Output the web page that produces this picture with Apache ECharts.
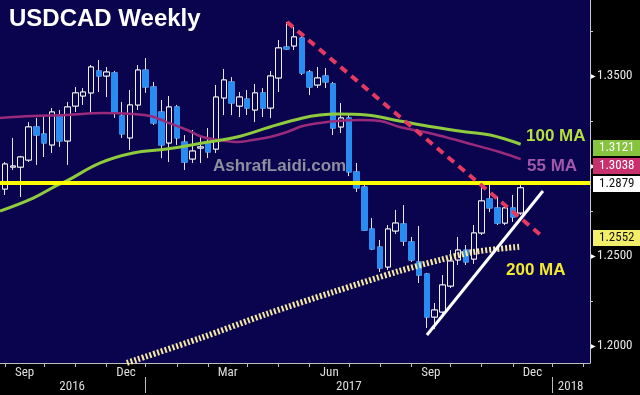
<!DOCTYPE html>
<html><head><meta charset="utf-8">
<script src="https://cdn.jsdelivr.net/npm/echarts@6/dist/echarts.min.js"></script>
<style>html,body{margin:0;padding:0;background:#000}#c{width:640px;height:395px}</style>
</head><body><div id="c"></div>
<script>
// Week index 0 = first week of Sep 2016 (index -1 = last week of Aug 2016)
const firstWeek = -1;
const open  = [1.2961,1.2872,1.2994,1.2994,1.3033,1.3217,1.3178,1.3117,1.3283,1.3139,1.3333,1.3389,1.3406,1.3528,1.3500,1.3517,1.3278,1.3156,1.3339,1.3533,1.3439,1.3300,1.3128,1.3328,1.3133,1.3039,1.3100,1.3128,1.3094,1.3378,1.3467,1.3333,1.3372,1.3311,1.3406,1.3322,1.3489,1.3661,1.3667,1.3711,1.3522,1.3450,1.3500,1.3456,1.3217,1.3267,1.2967,1.2883,1.2650,1.2550,1.2439,1.2639,1.2678,1.2578,1.2467,1.2400,1.2161,1.2189,1.2333,1.2478,1.2533,1.2483,1.2628,1.2817,1.2767,1.2683,1.2767,1.2739];
const close = [1.2872,1.3011,1.3000,1.3050,1.3217,1.3172,1.3128,1.3300,1.3139,1.3328,1.3406,1.3411,1.3550,1.3500,1.3522,1.3300,1.3178,1.3339,1.3533,1.3439,1.3239,1.3117,1.3328,1.3156,1.3022,1.3083,1.3106,1.3078,1.3383,1.3478,1.3350,1.3383,1.3322,1.3406,1.3322,1.3500,1.3656,1.3650,1.3717,1.3517,1.3439,1.3489,1.3467,1.3211,1.3267,1.2967,1.2878,1.2644,1.2539,1.2433,1.2650,1.2683,1.2583,1.2478,1.2394,1.2161,1.2200,1.2339,1.2472,1.2533,1.2467,1.2628,1.2806,1.2767,1.2683,1.2767,1.2717,1.2879];
const low   = [1.2861,1.2839,1.2978,1.2828,1.3022,1.3006,1.3050,1.3072,1.3106,1.3006,1.3300,1.3339,1.3294,1.3411,1.3383,1.3267,1.3156,1.3089,1.3311,1.3406,1.3228,1.3044,1.3022,1.3117,1.2978,1.3017,1.3017,1.3044,1.3072,1.3283,1.3283,1.3272,1.3283,1.3244,1.3272,1.3267,1.3411,1.3644,1.3644,1.3506,1.3394,1.3433,1.3433,1.3172,1.3183,1.2944,1.2856,1.2639,1.2533,1.2411,1.2422,1.2622,1.2556,1.2467,1.2350,1.2100,1.2094,1.2172,1.2322,1.2450,1.2450,1.2456,1.2617,1.2744,1.2672,1.2672,1.2689,1.2728];
const high  = [1.2972,1.3022,1.3156,1.3056,1.3244,1.3267,1.3283,1.3322,1.3311,1.3356,1.3439,1.3433,1.3561,1.3589,1.3550,1.3528,1.3356,1.3422,1.3561,1.3600,1.3467,1.3367,1.3389,1.3339,1.3172,1.3200,1.3161,1.3211,1.3450,1.3539,1.3494,1.3411,1.3422,1.3456,1.3433,1.3528,1.3700,1.3800,1.3772,1.3728,1.3533,1.3550,1.3544,1.3467,1.3350,1.3283,1.3017,1.2894,1.2711,1.2589,1.2672,1.2756,1.2783,1.2606,1.2667,1.2406,1.2239,1.2394,1.2533,1.2606,1.2561,1.2672,1.2917,1.2911,1.2828,1.2794,1.2839,1.2894];

// Moving averages: [week index, value]
const ma55  = [[-0.64,1.3267],[3.6,1.3278],[7.9,1.3283],[12.5,1.3294],[16.4,1.3289],[18.6,1.3278],[20.7,1.3244],[23.3,1.3200],[25.3,1.3161],[27.5,1.3144],[29.7,1.3133],[31.7,1.3144],[33.9,1.3161],[36.1,1.3189],[38.1,1.3222],[40.3,1.3239],[42.5,1.3250],[45.4,1.3256],[48.0,1.3250],[50.5,1.3217],[54.8,1.3178],[59.1,1.3128],[63.3,1.3078],[66,1.3038]];
const ma100 = [[-0.64,1.2750],[3.6,1.2822],[6.7,1.2894],[7.9,1.2917],[12.2,1.3017],[16.4,1.3072],[20.7,1.3094],[25.3,1.3128],[29.7,1.3161],[33.9,1.3217],[38.1,1.3267],[40.3,1.3283],[42.5,1.3289],[46.3,1.3283],[50.5,1.3250],[54.8,1.3217],[59.1,1.3189],[62.1,1.3172],[66,1.3121]];
const ma200 = [[15.6,1.1906],[25.0,1.2044],[33.5,1.2178],[42.0,1.2300],[50.5,1.2417],[55.7,1.2478],[59.9,1.2522],[66,1.2552]];

// Drawn annotations
const resistanceLine = [[36.09,1.3800],[68.85,1.2606]];
const supportLine    = [[54.0,1.2061],[68.85,1.2861]];
const levelValue = 1.2905;

// Axes
const xMin = -0.64, xMax = 74.87;
const yMin = 1.19056, yMax = 1.39222;
const monthTicks = [0,5,9,13,18,22,26,31,35,39,44,48,52,57,61,65,70,74];
const monthLabelPos = [2.5,15.5,28.5,41.5,54.5,67.5];
const monthLabels = ['Sep','Dec','Mar','Jun','Sep','Dec'];
const yearTicks = [18,70];
const yearLabelPos = [8.6,44,72.4];
const yearLabels = ['2016','2017','2018'];
const yTicks = [1.2,1.225,1.25,1.275,1.3,1.325,1.35,1.375];
const yLabels = [1.2,1.25,1.3,1.35];

const NAVY = '#0a044e', BLUE = '#2a8cf0';
const NARROW = '"Liberation Sans Narrow","Arial Narrow","Roboto Condensed",sans-serif';
const SANS = '"Liberation Sans",Arial,sans-serif';

const candles = open.map((o,k)=>[firstWeek+k, o, close[k], low[k], high[k]]);
const bodies  = open.map((o,k)=>[firstWeek+k, o, close[k], Math.min(o,close[k]), Math.max(o,close[k])]);
const last = a => a[a.length-1];

function tag(value, bg, fg){
  return {silent:true, symbol:['none','none'], animation:false,
    lineStyle:{width:0,color:'rgba(0,0,0,0)'},
    label:{show:true, position:'end', distance:3, formatter:value.toFixed(4),
      backgroundColor:bg, color:fg, padding:[2,6,1,6], fontSize:13, fontFamily:NARROW},
    data:[{yAxis:value}]};
}
function pick(pos, labels){ return v => { const i = pos.findIndex(p=>Math.abs(p-v)<0.01); return i<0?'':labels[i]; }; }

const chart = echarts.init(document.getElementById('c'), null, {renderer:'canvas'});
chart.setOption({
  animation:false,
  backgroundColor:'#000',
  title:{text:'USDCAD Weekly', left:9, top:7, padding:0,
    textStyle:{color:'#fff', fontSize:24, fontWeight:'bold', fontFamily:SANS}},
  grid:{left:0, right:50, top:0, bottom:32, show:true, backgroundColor:NAVY, borderWidth:0, outerBoundsMode:'none'},
  xAxis:[
    {type:'value', min:xMin, max:xMax,
      axisLine:{show:true, onZero:false, lineStyle:{color:'#bdbdbd'}},
      axisTick:{show:true, customValues:monthTicks, length:4, lineStyle:{color:'#bdbdbd'}},
      axisLabel:{customValues:monthLabelPos, formatter:pick(monthLabelPos,monthLabels), margin:3,
        color:'#dedede', fontSize:13, fontFamily:NARROW},
      splitLine:{show:false}},
    {type:'value', min:xMin, max:xMax, position:'bottom', offset:14,
      axisLine:{show:false, onZero:false},
      axisTick:{show:true, customValues:yearTicks, length:16, lineStyle:{color:'#bdbdbd'}},
      axisLabel:{customValues:yearLabelPos, formatter:pick(yearLabelPos,yearLabels), margin:3,
        color:'#dedede', fontSize:13, fontFamily:NARROW},
      splitLine:{show:false}}
  ],
  yAxis:{type:'value', position:'right', min:yMin, max:yMax,
    axisLine:{show:true, onZero:false, lineStyle:{color:'#c8c8c8'}},
    axisTick:{show:true, customValues:yTicks, length:3, lineStyle:{color:'#c8c8c8'}},
    axisLabel:{customValues:yLabels, margin:1,
      formatter:v=>'{t|▶}{v|'+v.toFixed(4)+'}',
      rich:{t:{fontSize:6,color:'#fff',padding:[0,1,0,0]}, v:{fontSize:13,color:'#e6e6e6',fontFamily:NARROW}}},
    splitLine:{show:false}},
  graphic:[
    {type:'text', x:213, y:166.5, z:20, style:{text:'AshrafLaidi.com', fill:'#8e8e9e', font:'bold 17px '+SANS, verticalAlign:'middle', textVerticalAlign:'middle'}},
    {type:'text', x:526, y:136.5, z:20, style:{text:'100 MA', fill:'#b6e03a', font:'bold 17px '+SANS, verticalAlign:'middle', textVerticalAlign:'middle'}},
    {type:'text', x:527, y:166.5, z:20, style:{text:'55 MA', fill:'#a259ab', font:'bold 17px '+SANS, verticalAlign:'middle', textVerticalAlign:'middle'}},
    {type:'text', x:506, y:270, z:20, style:{text:'200 MA', fill:'#f2ea2e', font:'bold 17px '+SANS, verticalAlign:'middle', textVerticalAlign:'middle'}}
  ],
  series:[
    {type:'candlestick', name:'range', data:candles, barWidth:6, z:2,
      itemStyle:{color:'transparent', color0:'transparent', borderColor:'#e6e6e6', borderColor0:'#e6e6e6', borderWidth:1}},
    {type:'candlestick', name:'USDCAD', data:bodies, barWidth:6, z:3,
      itemStyle:{color:NAVY, color0:BLUE, borderColor:'#f0f0f0', borderColor0:BLUE, borderWidth:1},
      markLine:tag(last(close), '#ffffff', '#111')},
    {type:'line', name:'55 MA', data:ma55, smooth:0.4, symbol:'none', z:4,
      lineStyle:{color:'#9a2a7a', width:2.5}, markLine:tag(last(ma55)[1], '#c8306e', '#fff')},
    {type:'line', name:'100 MA', data:ma100, smooth:0.4, symbol:'none', z:4,
      lineStyle:{color:'#8fcb3c', width:3}, markLine:tag(last(ma100)[1], '#86c440', '#fff')},
    {type:'line', name:'200 MA', data:ma200, smooth:0.3, symbol:'none', z:4,
      lineStyle:{color:'#f5e9a0', width:6, type:[2,2]}, markLine:tag(last(ma200)[1], '#f2ee6a', '#111')},
    {type:'line', name:'level', data:[[xMin,levelValue],[xMax,levelValue]], symbol:'none', z:5,
      lineStyle:{color:'#ffff00', width:4}},
    {type:'line', name:'resistance', data:resistanceLine, symbol:'none', z:6,
      lineStyle:{color:'#e53a60', width:4, type:[8,6]}},
    {type:'line', name:'support', data:supportLine, symbol:'none', z:6,
      lineStyle:{color:'#ffffff', width:3}}
  ]
});
</script></body></html>
